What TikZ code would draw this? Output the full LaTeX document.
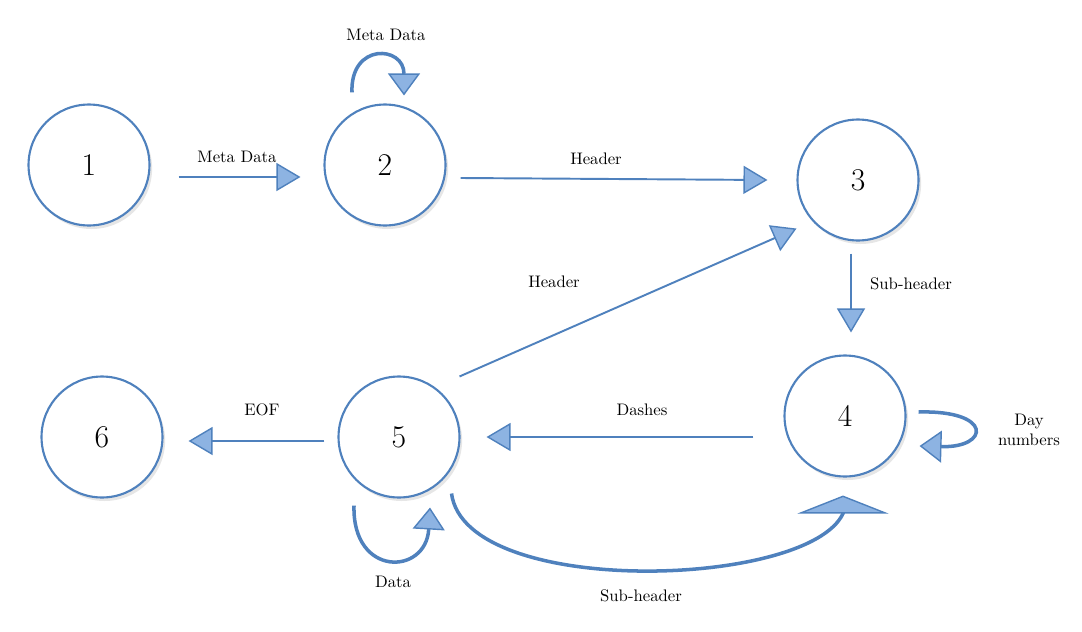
\documentclass[tikz,border=0pt]{standalone}
\usepackage{tikz}
\usetikzlibrary{arrows.meta,shadows}
\definecolor{lineblue}{HTML}{4F81BD}
\definecolor{headblue}{HTML}{8DB3E2}

\begin{document}
\begin{tikzpicture}[x=0.02cm,y=-0.02cm,
	state/.style={shape=circle,draw=lineblue,line width=1.2pt,fill=white,minimum size=2.42cm,inner sep=0pt,
		font=\fontsize{18}{20}\selectfont,drop shadow={shadow xshift=1.5pt,shadow yshift=-2pt,opacity=0.2}},
	flow/.style={draw=lineblue,line width=1.1pt,-{Triangle[width=0.56cm,length=0.48cm,fill=headblue,line width=0.8pt]}},
	loopflow/.style={draw=lineblue,line width=2pt,-{Triangle[width=0.64cm,length=0.44cm,fill=headblue,line width=0.8pt]}},
	lbl/.style={font=\fontsize{9.5}{11.5}\selectfont,align=center}]
	\useasboundingbox (0,0) rectangle (1082,632);
	\path (89,165) node (1) [state] {1}
		  (385,165) node (2) [state] {2}
		  (858,180) node (3) [state] {3}
		  (845,416) node (4) [state] {4}
		  (399,437) node (5) [state] {5}
		  (102,437) node (6) [state] {6};
	% straight connectors
	\draw[flow] ([shift={(28,12)}]1.east) -- ([shift={(-23,12)}]2.west);
	\draw[flow] ([shift={(14,13)}]2.east) -- ([shift={(-29,0)}]3.west);
	\draw[flow] ([shift={(-7,12)}]3.south) -- ([shift={(6,-22)}]4.north);
	\draw[flow] ([shift={(17,-17)}]5.north east) -- ([shift={(-18,5)}]3.south west);
	\draw[flow] ([shift={(-30,21)}]4.west) -- ([shift={(26,0)}]5.east);
	\draw[flow] ([shift={(-13,4)}]5.west) -- ([shift={(25,4)}]6.east);
	% loops
	\draw[loopflow] ([shift={(-33,-11)}]2.north) .. controls +(-2,-50) and +(0,-50) .. ([shift={(19,-8)}]2.north);
	\draw[loopflow] ([shift={(12,-4)}]4.east) .. controls +(75,-2) and +(70,2) .. ([shift={(13,30)}]4.east);
	\draw[loopflow] ([shift={(-45,7)}]5.south) .. controls +(-2,72) and +(-4,68) .. ([shift={(31,9)}]5.south);
	\draw[draw=lineblue,line width=2pt,-{Triangle[width=1.82cm,length=0.36cm,fill=headblue,line width=0.8pt]}]
		([shift={(9,13)}]5.south east) .. controls +(14,105) and +(-35,75) .. ([shift={(-2,36)}]4.south)
		-- ([shift={(-2,18)}]4.south);
	% labels
	\path (386,35) node (l1) [lbl] {Meta Data}
		  (237,157) node (l2) [lbl] {Meta Data}
		  (596,159) node (l3) [lbl] {Header}
		  (911,284) node (l4) [lbl] {Sub-header}
		  (554,282) node (l5) [lbl] {Header}
		  (642,410) node (l6) [lbl] {Dashes}
		  (262,410) node (l7) [lbl] {EOF}
		  (1029,430) node (l8) [lbl] {Day\\numbers}
		  (393,582) node (l9) [lbl] {Data}
		  (641,596) node (l10) [lbl] {Sub-header};
\end{tikzpicture}
\end{document}
